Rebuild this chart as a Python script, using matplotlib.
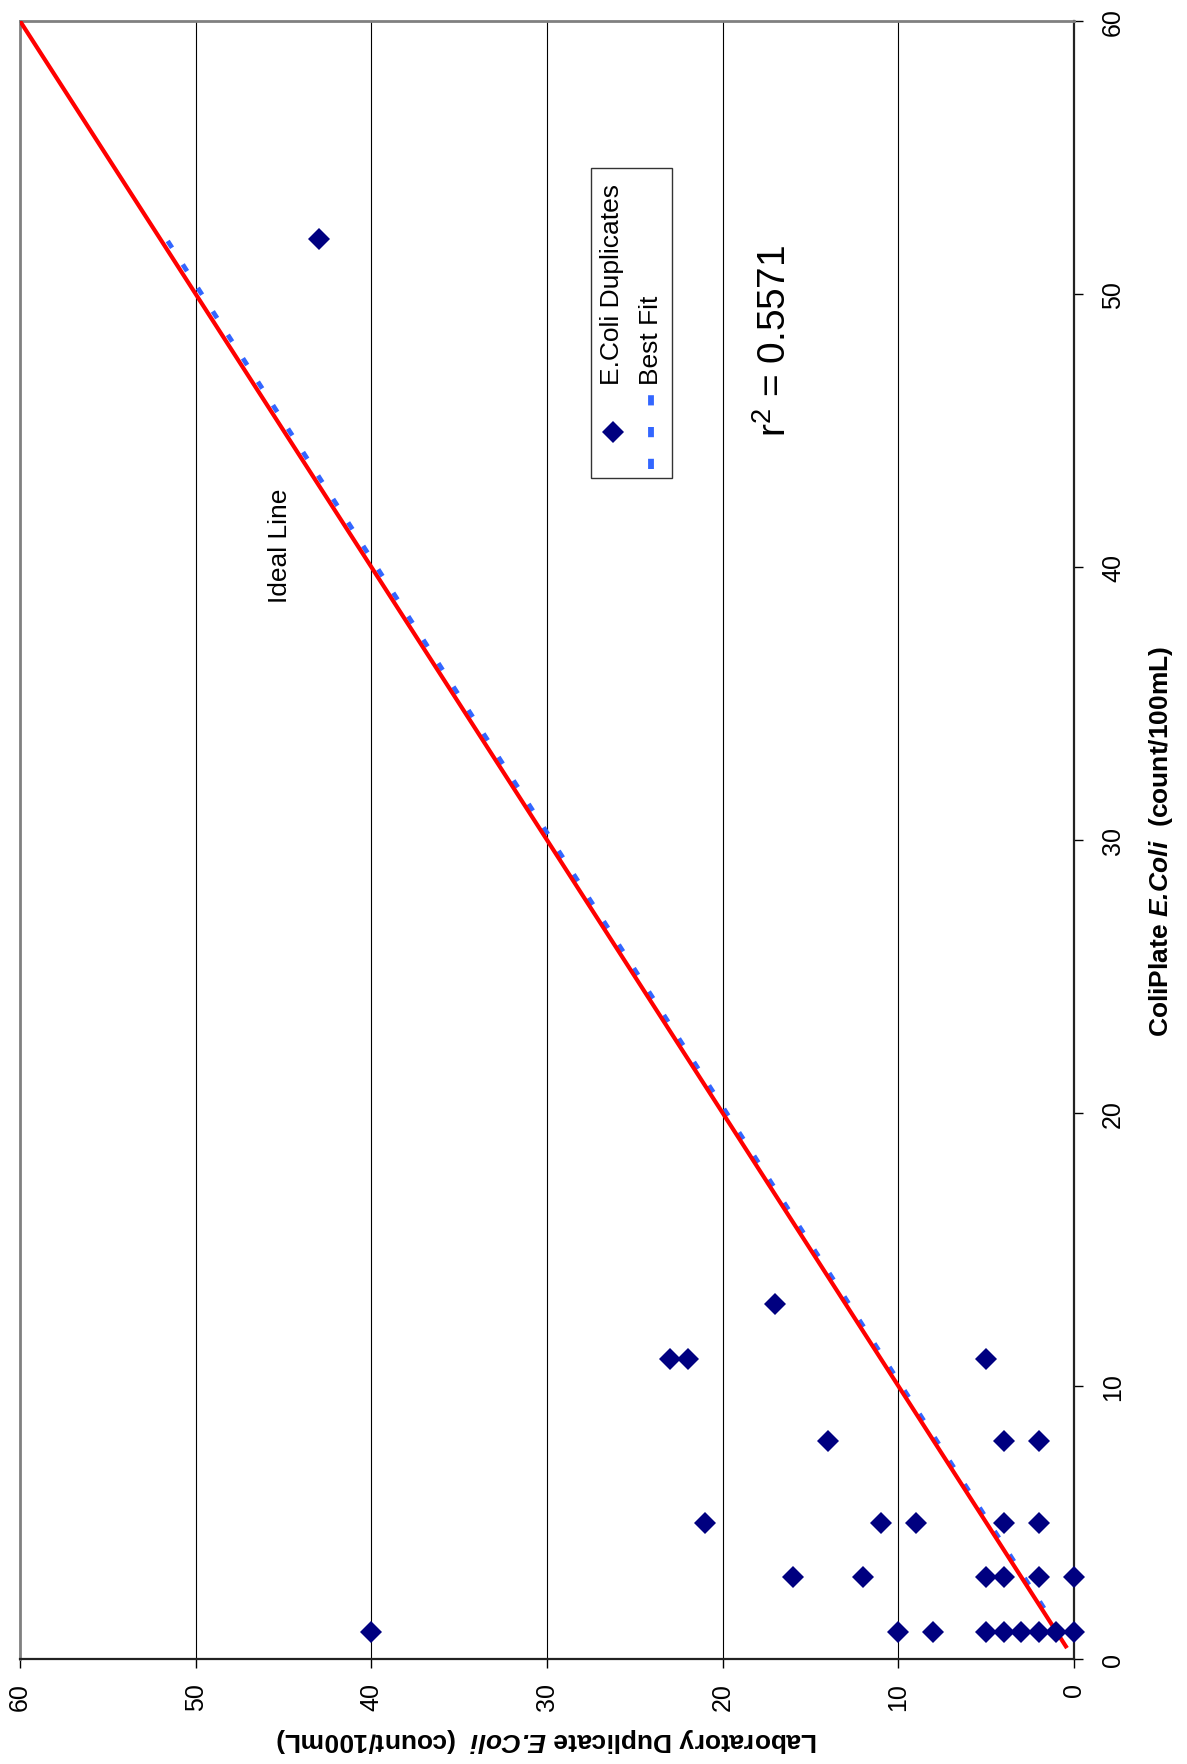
import matplotlib
matplotlib.use("Agg")
import matplotlib.pyplot as plt
from matplotlib.lines import Line2D
from matplotlib.patches import Rectangle

plt.rcParams['font.family'] = ['Liberation Sans', 'DejaVu Sans']
plt.rcParams['mathtext.fontset'] = 'custom'
plt.rcParams['mathtext.rm'] = 'Liberation Sans'
plt.rcParams['mathtext.it'] = 'Liberation Sans:italic'
plt.rcParams['mathtext.bf'] = 'Liberation Sans:bold'
plt.rcParams['mathtext.bfit'] = 'Liberation Sans:italic:bold'

# ---- data (ColiPlate E.Coli vs Laboratory Duplicate E.Coli, count/100mL) ----
coliplate = [52, 13, 11, 11, 11, 8, 8, 8, 5, 5, 5, 5, 5,
             3, 3, 3, 3, 3, 3, 1, 1, 1, 1, 1, 1, 1, 1, 1]
lab_dup = [43, 17, 23, 22, 5, 14, 4, 2, 21, 11, 9, 4, 2,
           16, 12, 5, 4, 2, 0, 40, 10, 8, 5, 4, 3, 2, 1, 0]
ideal_x = [0.4, 60]
ideal_y = [0.4, 60]
fit_x = [1, 52]
fit_y = [0.85, 51.65]
ticks = [0, 10, 20, 30, 40, 50, 60]
grid_vals = [10, 20, 30, 40, 50]
r2_text = 'r$^2$ = 0.5571'

navy = '#000080'
blue = '#3366FF'

fig = plt.figure(figsize=(11.87, 17.65), dpi=100)
W, H = 1187, 1765
L, R, T, B = 20, 1074, 22, 1660
ax = fig.add_axes([L / W, 1 - B / H, (R - L) / W, (B - T) / H])

# Chart is shown rotated 90 deg: horizontal = lab duplicate (inverted), vertical = ColiPlate
ax.set_xlim(60, 0)
ax.set_ylim(0, 60)

for g in grid_vals:
    ax.axvline(g, color='black', lw=0.8, zorder=1)

ax.plot(fit_y, fit_x, color=blue, lw=3.4, linestyle=(0, (1.7, 4.2)),
        dash_capstyle='butt', zorder=2)
ax.plot(ideal_y, ideal_x, color='#FF0000', lw=3.0, zorder=3,
        solid_capstyle='butt')
ax.plot(lab_dup, coliplate, linestyle='none', marker='D', ms=10.8,
        color=navy, markeredgewidth=0, zorder=5, clip_on=False)

ax.text(45.2, 40.8, 'Ideal Line', rotation=90, ha='center', va='center',
        fontsize=19)
ax.text(17.0, 48.3, r2_text, rotation=90, ha='center', va='center',
        fontsize=28)

# spines
for s in ['left', 'top']:
    ax.spines[s].set_color('#808080')
    ax.spines[s].set_linewidth(2.0)
for s in ['right', 'bottom']:
    ax.spines[s].set_color('#222222')
    ax.spines[s].set_linewidth(1.6)

ax.set_xticks(ticks)
ax.set_yticks(ticks)
ax.yaxis.tick_right()
ax.tick_params(axis='x', direction='out', length=6.5, width=1.0,
               labelsize=18, labelrotation=90, pad=10)
ax.tick_params(axis='y', direction='out', length=6.5, width=1.0,
               labelsize=18, labelrotation=90, pad=13)
for lbl in ax.get_yticklabels():
    lbl.set_va('center')
    lbl.set_ha('left')

# manual rotated legend (axes fraction coords)
def fx(px):
    return (px - L) / (R - L)

def fy(py):
    return (B - py) / (B - T)

ax.add_patch(Rectangle((fx(591), fy(479)), fx(672) - fx(591), fy(169) - fy(479),
                       transform=ax.transAxes, facecolor='white',
                       edgecolor='#333333', lw=1.0, zorder=6))
ax.add_line(Line2D([fx(613)], [fy(433)], transform=ax.transAxes, marker='D',
                   ms=10.8, color=navy, markeredgewidth=0, linestyle='none',
                   zorder=7))
ax.add_line(Line2D([fx(651), fx(651)], [fy(470), fy(396)], transform=ax.transAxes,
                   color=blue, lw=4.2, linestyle=(0, (1.75, 3.7)),
                   dash_capstyle='butt', zorder=7))
ax.text(fx(612), fy(385), 'E.Coli Duplicates', transform=ax.transAxes,
        rotation=90, ha='center', va='bottom', fontsize=19, zorder=7)
ax.text(fx(651), fy(385), 'Best Fit', transform=ax.transAxes,
        rotation=90, ha='center', va='bottom', fontsize=19, zorder=7)

# axis titles
fig.text(1161 / W, 1 - 841 / H, r'ColiPlate $\mathbfit{E.\!Coli}$  (count/100mL)',
         rotation=90, ha='center', va='center', fontsize=19, fontweight='bold')
fig.text(547 / W, 1 - 1740 / H,
         r'Laboratory Duplicate $\mathbfit{E.\!Coli}$  (count/100mL)',
         rotation=180, ha='center', va='center', fontsize=19, fontweight='bold')

fig.savefig('out.png', dpi=100)
